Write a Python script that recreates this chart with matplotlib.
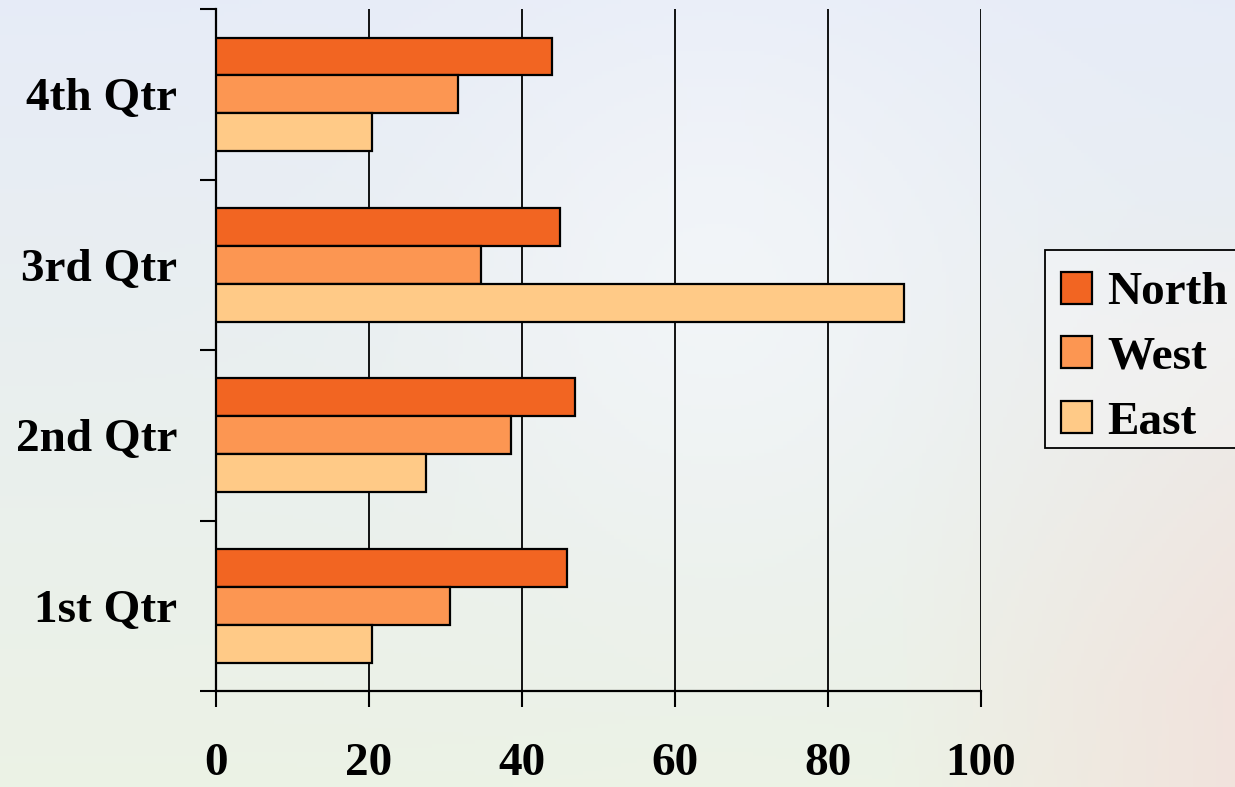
import numpy as np
import matplotlib
matplotlib.use("Agg")
import matplotlib.pyplot as plt
from matplotlib.patches import Rectangle

# quarter labels, bottom to top
quarters = ["1st Qtr", "2nd Qtr", "3rd Qtr", "4th Qtr"]
north = [45.9, 46.9, 45.0, 43.9]
west = [30.6, 38.6, 34.6, 31.6]
east = [20.4, 27.4, 90.0, 20.4]
x_ticks = [0, 20, 40, 60, 80, 100]

plt.rcParams['font.family'] = ['Liberation Serif', 'DejaVu Serif']
plt.rcParams['font.weight'] = 'bold'

fig = plt.figure(figsize=(12.35, 7.87), dpi=100)

# soft background in place of the puzzle picture
bg = fig.add_axes([0, 0, 1, 1], zorder=-10)
h, w = 200, 320
yy, xx = np.mgrid[0:1:h * 1j, 0:1:w * 1j]
top = np.array([0.905, 0.925, 0.970])
bottom = np.array([0.925, 0.950, 0.900])
pink = np.array([0.950, 0.880, 0.860])
img = top[None, None, :] * (1 - yy[..., None]) + bottom[None, None, :] * yy[..., None]
mix = np.clip((xx - 0.72) * 3.0, 0, 1) * np.clip((yy - 0.25) * 1.6, 0, 1)
img = img * (1 - mix[..., None]) + pink[None, None, :] * mix[..., None]
glow = np.exp(-(((xx - 0.58) / 0.22) ** 2 + ((yy - 0.35) / 0.35) ** 2))
img = img * (1 - 0.6 * glow[..., None]) + 0.6 * glow[..., None] * np.array([0.97, 0.975, 0.99])
bg.imshow(img, aspect='auto', extent=[0, 1, 0, 1], origin='upper')
bg.axis('off')

ax = fig.add_axes([0.1749, 0.1220, 0.6194, 0.8665])
ax.patch.set_alpha(0)

pos = np.arange(len(quarters))
bh = 0.222
colors = {"North": "#F26522", "West": "#FC9652", "East": "#FFCA87"}
ax.barh(pos + bh, north, height=bh, color=colors["North"], edgecolor='black', linewidth=1.6, label="North", zorder=3)
ax.barh(pos, west, height=bh, color=colors["West"], edgecolor='black', linewidth=1.6, label="West", zorder=3)
ax.barh(pos - bh, east, height=bh, color=colors["East"], edgecolor='black', linewidth=1.6, label="East", zorder=3)

ax.set_xlim(0, 100)
ax.set_ylim(-0.5, len(quarters) - 0.5)
ax.set_xticks(x_ticks)
ax.set_xticklabels([str(t) for t in x_ticks])
ax.set_yticks(np.arange(-0.5, len(quarters), 1.0))
ax.set_yticklabels([])
ax.set_yticks(pos, minor=True)
ax.set_yticklabels(quarters, minor=True)

ax.tick_params(axis='x', which='major', length=11.5, width=1.5, direction='out',
               pad=26, labelsize=34)
ax.tick_params(axis='y', which='major', length=11.5, width=1.5, direction='out')
ax.tick_params(axis='y', which='minor', length=0, pad=28, labelsize=34)

ax.grid(axis='x', color='black', linewidth=1.3, zorder=1)
ax.set_axisbelow(True)
for side in ['top', 'right']:
    ax.spines[side].set_visible(False)
for side in ['left', 'bottom']:
    ax.spines[side].set_linewidth(1.6)

# legend box drawn separately so its padding matches the original
W, H = 1235, 787
box = Rectangle((1045 / W, 1 - 448 / H), 200 / W, 198 / H, transform=fig.transFigure,
                facecolor=(1, 1, 1, 0.25), edgecolor='black', linewidth=1.3)
fig.add_artist(box)

handles, labels = ax.get_legend_handles_labels()
leg = fig.legend(handles, labels, loc='upper left', bbox_to_anchor=(1049 / W, 1 - 260 / H),
                 fontsize=34, frameon=False, handlelength=0.66, handleheight=0.66,
                 handletextpad=0.33, labelspacing=0.47, borderpad=0.25, borderaxespad=0)

fig.savefig("out.png", dpi=100)
